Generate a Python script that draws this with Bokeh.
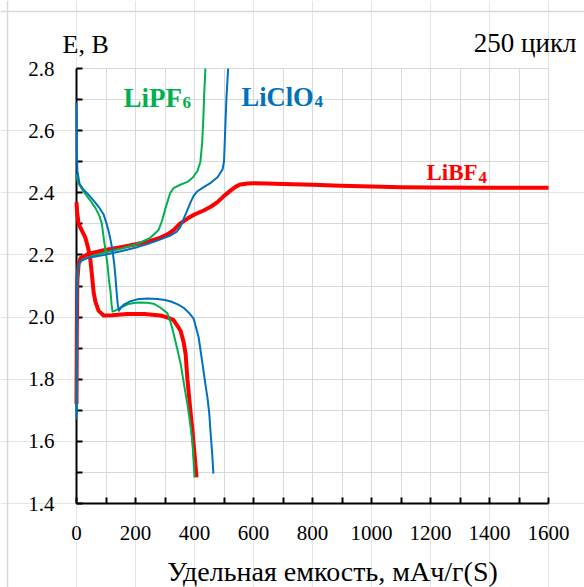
from bokeh.plotting import figure
from bokeh.models import Range1d, FixedTicker, Label, LinearAxis, Grid, Span
from bokeh.embed import file_html
from bokeh.resources import INLINE

# ---------------- data ----------------
x_ticks = [0, 200, 400, 600, 800, 1000, 1200, 1400, 1600]
x_minor = [100, 300, 500, 700, 900, 1100, 1300, 1500]
y_ticks = [1.4, 1.6, 1.8, 2.0, 2.2, 2.4, 2.6, 2.8]
y_tick_labels = ["1.4", "1.6", "1.8", "2.0", "2.2", "2.4", "2.6", "2.8"]
y_minor = [1.5, 1.7, 1.9, 2.1, 2.3, 2.5, 2.7]

# LiBF4 (red)
red_dis_x = [0, 2, 7, 30, 40, 47, 53, 58, 64, 75, 92, 120, 172, 230, 285, 310, 329, 342, 353, 363, 370, 376, 385, 393, 400, 407]
red_dis_y = [2.37, 2.34, 2.30, 2.256, 2.22, 2.185, 2.13, 2.08, 2.05, 2.02, 2.005, 2.006, 2.01, 2.01, 2.005, 1.998, 1.99, 1.972, 1.955, 1.92, 1.88, 1.80, 1.71, 1.635, 1.56, 1.484]
red_ch_x = [0, 1, 3, 7, 14, 40, 92, 150, 206, 250, 285, 310, 329, 350, 376, 400, 431, 455, 478, 500, 522, 540, 556, 580, 600, 647, 700, 800, 895, 1000, 1100, 1210, 1400, 1600]
red_ch_y = [1.72, 1.95, 2.12, 2.17, 2.19, 2.203, 2.215, 2.225, 2.235, 2.245, 2.256, 2.267, 2.28, 2.30, 2.317, 2.33, 2.343, 2.355, 2.37, 2.39, 2.407, 2.42, 2.427, 2.43, 2.431, 2.43, 2.428, 2.426, 2.423, 2.42, 2.418, 2.417, 2.416, 2.416]

# LiPF6 (green)
green_dis_x = [0, 3, 7, 20, 35, 47, 65, 78, 86, 92, 99, 105, 110, 115, 119, 122, 130, 149, 175, 206, 240, 261, 285, 308, 320, 329, 341, 353, 365, 376, 385, 393, 400]
green_dis_y = [2.46, 2.44, 2.43, 2.41, 2.39, 2.375, 2.35, 2.325, 2.30, 2.256, 2.21, 2.17, 2.12, 2.085, 2.04, 2.018, 2.02, 2.03, 2.042, 2.047, 2.046, 2.043, 2.03, 2.012, 1.98, 1.947, 1.90, 1.85, 1.78, 1.72, 1.66, 1.60, 1.484]
green_ch_x = [0, 1, 3, 7, 20, 50, 92, 150, 206, 235, 251, 265, 278, 290, 300, 308, 318, 329, 350, 376, 395, 410, 420, 426, 430, 433, 437]
green_ch_y = [1.70, 1.95, 2.12, 2.17, 2.185, 2.195, 2.207, 2.22, 2.235, 2.248, 2.256, 2.268, 2.28, 2.31, 2.345, 2.37, 2.40, 2.415, 2.425, 2.435, 2.45, 2.47, 2.50, 2.56, 2.64, 2.72, 2.80]

# LiClO4 (blue)
blue_dis_x = [0, 1, 3, 10, 24, 40, 58, 75, 92, 102, 108, 115, 122, 128, 132, 136, 140, 144, 150, 160, 180, 206, 240, 274, 300, 320, 345, 363, 380, 397, 407, 414, 427, 436, 444, 450, 454, 460, 464]
blue_dis_y = [2.69, 2.55, 2.47, 2.43, 2.41, 2.395, 2.375, 2.355, 2.33, 2.30, 2.28, 2.25, 2.215, 2.17, 2.13, 2.08, 2.04, 2.02, 2.03, 2.04, 2.05, 2.057, 2.06, 2.058, 2.055, 2.05, 2.04, 2.03, 2.015, 1.995, 1.96, 1.935, 1.85, 1.79, 1.74, 1.69, 1.635, 1.56, 1.496]
blue_ch_x = [0, 1, 2, 4, 8, 14, 37, 92, 150, 206, 240, 274, 318, 340, 352, 365, 376, 387, 397, 410, 431, 455, 478, 495, 500, 504, 508, 514]
blue_ch_y = [1.67, 1.90, 2.10, 2.15, 2.17, 2.18, 2.19, 2.20, 2.212, 2.225, 2.235, 2.246, 2.262, 2.275, 2.29, 2.32, 2.345, 2.37, 2.39, 2.405, 2.418, 2.432, 2.45, 2.475, 2.50, 2.60, 2.70, 2.80]

RED = "#FF0000"
GREEN = "#00B050"
BLUE = "#0070C0"
GRID = "#D9D9D9"
SERIF = "Liberation Serif"

# ---------------- layout (pixels) ----------------
W, H = 584, 587
FL, FR, FT, FB = 76, 548, 68, 503   # pixel box of the data region
sx = (FR - FL) / (x_ticks[-1] - x_ticks[0])
sy = (FB - FT) / (y_ticks[-1] - y_ticks[0])
x0 = x_ticks[0] - FL / sx
x1 = x_ticks[-1] + (W - FR) / sx
y1 = y_ticks[-1] + FT / sy
y0 = y_ticks[0] - (H - FB) / sy


def dx(px):
    return x0 + px / sx


def dy(py):
    return y1 - py / sy


p = figure(width=W, height=H, x_range=Range1d(x0, x1), y_range=Range1d(y0, y1),
           min_border=0, x_axis_location=None, y_axis_location=None,
           output_backend="svg", toolbar_location=None)
p.outline_line_color = None
p.background_fill_color = "white"
p.border_fill_color = "white"

# outer chart border (light grey, left and top visible)
p.add_layout(Span(location=dy(11), dimension="width", line_color=GRID, line_width=1.5))
p.add_layout(Span(location=dx(7), dimension="height", line_color=GRID, line_width=1.5))

xt = FixedTicker(ticks=x_ticks, minor_ticks=x_minor)
yt = FixedTicker(ticks=y_ticks, minor_ticks=y_minor)

# grid
try:
    gx = Grid(dimension=0, ticker=xt, bounds=(x_ticks[0] - 1, x_ticks[-1] + 1),
              cross_bounds=(y_ticks[0], y_ticks[-1]))
    gy = Grid(dimension=1, ticker=yt, bounds=(y_ticks[0] - 0.001, y_ticks[-1] + 0.001),
              cross_bounds=(x_ticks[0], x_ticks[-1]))
    for g in (gx, gy):
        g.grid_line_color = GRID
        g.grid_line_width = 1
        g.minor_grid_line_color = GRID
        g.minor_grid_line_width = 1
        p.add_layout(g)
except Exception:
    allx = sorted(x_ticks + x_minor)
    ally = sorted(y_ticks + y_minor)
    p.segment(x0=allx, x1=allx, y0=[y_ticks[0]] * len(allx), y1=[y_ticks[-1]] * len(allx),
              line_color=GRID, line_width=1)
    p.segment(x0=[x_ticks[0]] * len(ally), x1=[x_ticks[-1]] * len(ally), y0=ally, y1=ally,
              line_color=GRID, line_width=1)

# axes
xaxis = LinearAxis(ticker=xt, fixed_location=y_ticks[0], bounds=(x_ticks[0], x_ticks[-1]))
yaxis = LinearAxis(ticker=yt, fixed_location=x_ticks[0], bounds=(y_ticks[0], y_ticks[-1]))
yaxis.major_label_overrides = {v: s for v, s in zip(y_ticks, y_tick_labels)}
for ax in (xaxis, yaxis):
    ax.axis_line_color = "black"
    ax.axis_line_width = 2
    ax.major_tick_in = 6
    ax.major_tick_out = 0
    ax.minor_tick_in = 6
    ax.minor_tick_out = 0
    ax.major_tick_line_color = "black"
    ax.minor_tick_line_color = "black"
    ax.major_tick_line_width = 2
    ax.minor_tick_line_width = 2
    ax.major_label_text_font = SERIF
    ax.major_label_text_font_size = "21px"
    ax.major_label_text_color = "black"
xaxis.major_label_standoff = 22
yaxis.major_label_standoff = 22
p.add_layout(xaxis, "below")
p.add_layout(yaxis, "left")

# curves (drawn over the axis lines, as in the original)
for xs, ys, col, lw in [(red_dis_x, red_dis_y, RED, 4), (red_ch_x, red_ch_y, RED, 4),
                        (green_dis_x, green_dis_y, GREEN, 2), (green_ch_x, green_ch_y, GREEN, 2),
                        (blue_dis_x, blue_dis_y, BLUE, 2), (blue_ch_x, blue_ch_y, BLUE, 2)]:
    r = p.line(xs, ys, color=col, line_width=lw, line_join="round")
    r.level = "overlay"


# texts (positions given in pixels)
def lab(px, py, text, size, color="black", bold=False, align="left"):
    p.add_layout(Label(x=dx(px), y=dy(py), text=text, text_font=SERIF, text_font_size=size,
                       text_color=color, text_font_style="bold" if bold else "normal",
                       text_align=align, text_baseline="alphabetic"))


lab(62, 44, "E, B", "26px")
lab(576, 42, "250 цикл", "27px", align="right")
lab(332, 571, "Удельная емкость, мАч/г(S)", "28px", align="center")

lab(123, 97, "LiPF", "27px", GREEN, True)
lab(182, 102, "6", "17px", GREEN, True)
lab(241, 96, "LiClO", "26.5px", BLUE, True)
lab(314, 101, "4", "17px", BLUE, True)
lab(426, 172, "LiBF", "23px", RED, True)
lab(478, 177, "4", "17px", RED, True)

open("out.html", "w").write(file_html(p, INLINE))
